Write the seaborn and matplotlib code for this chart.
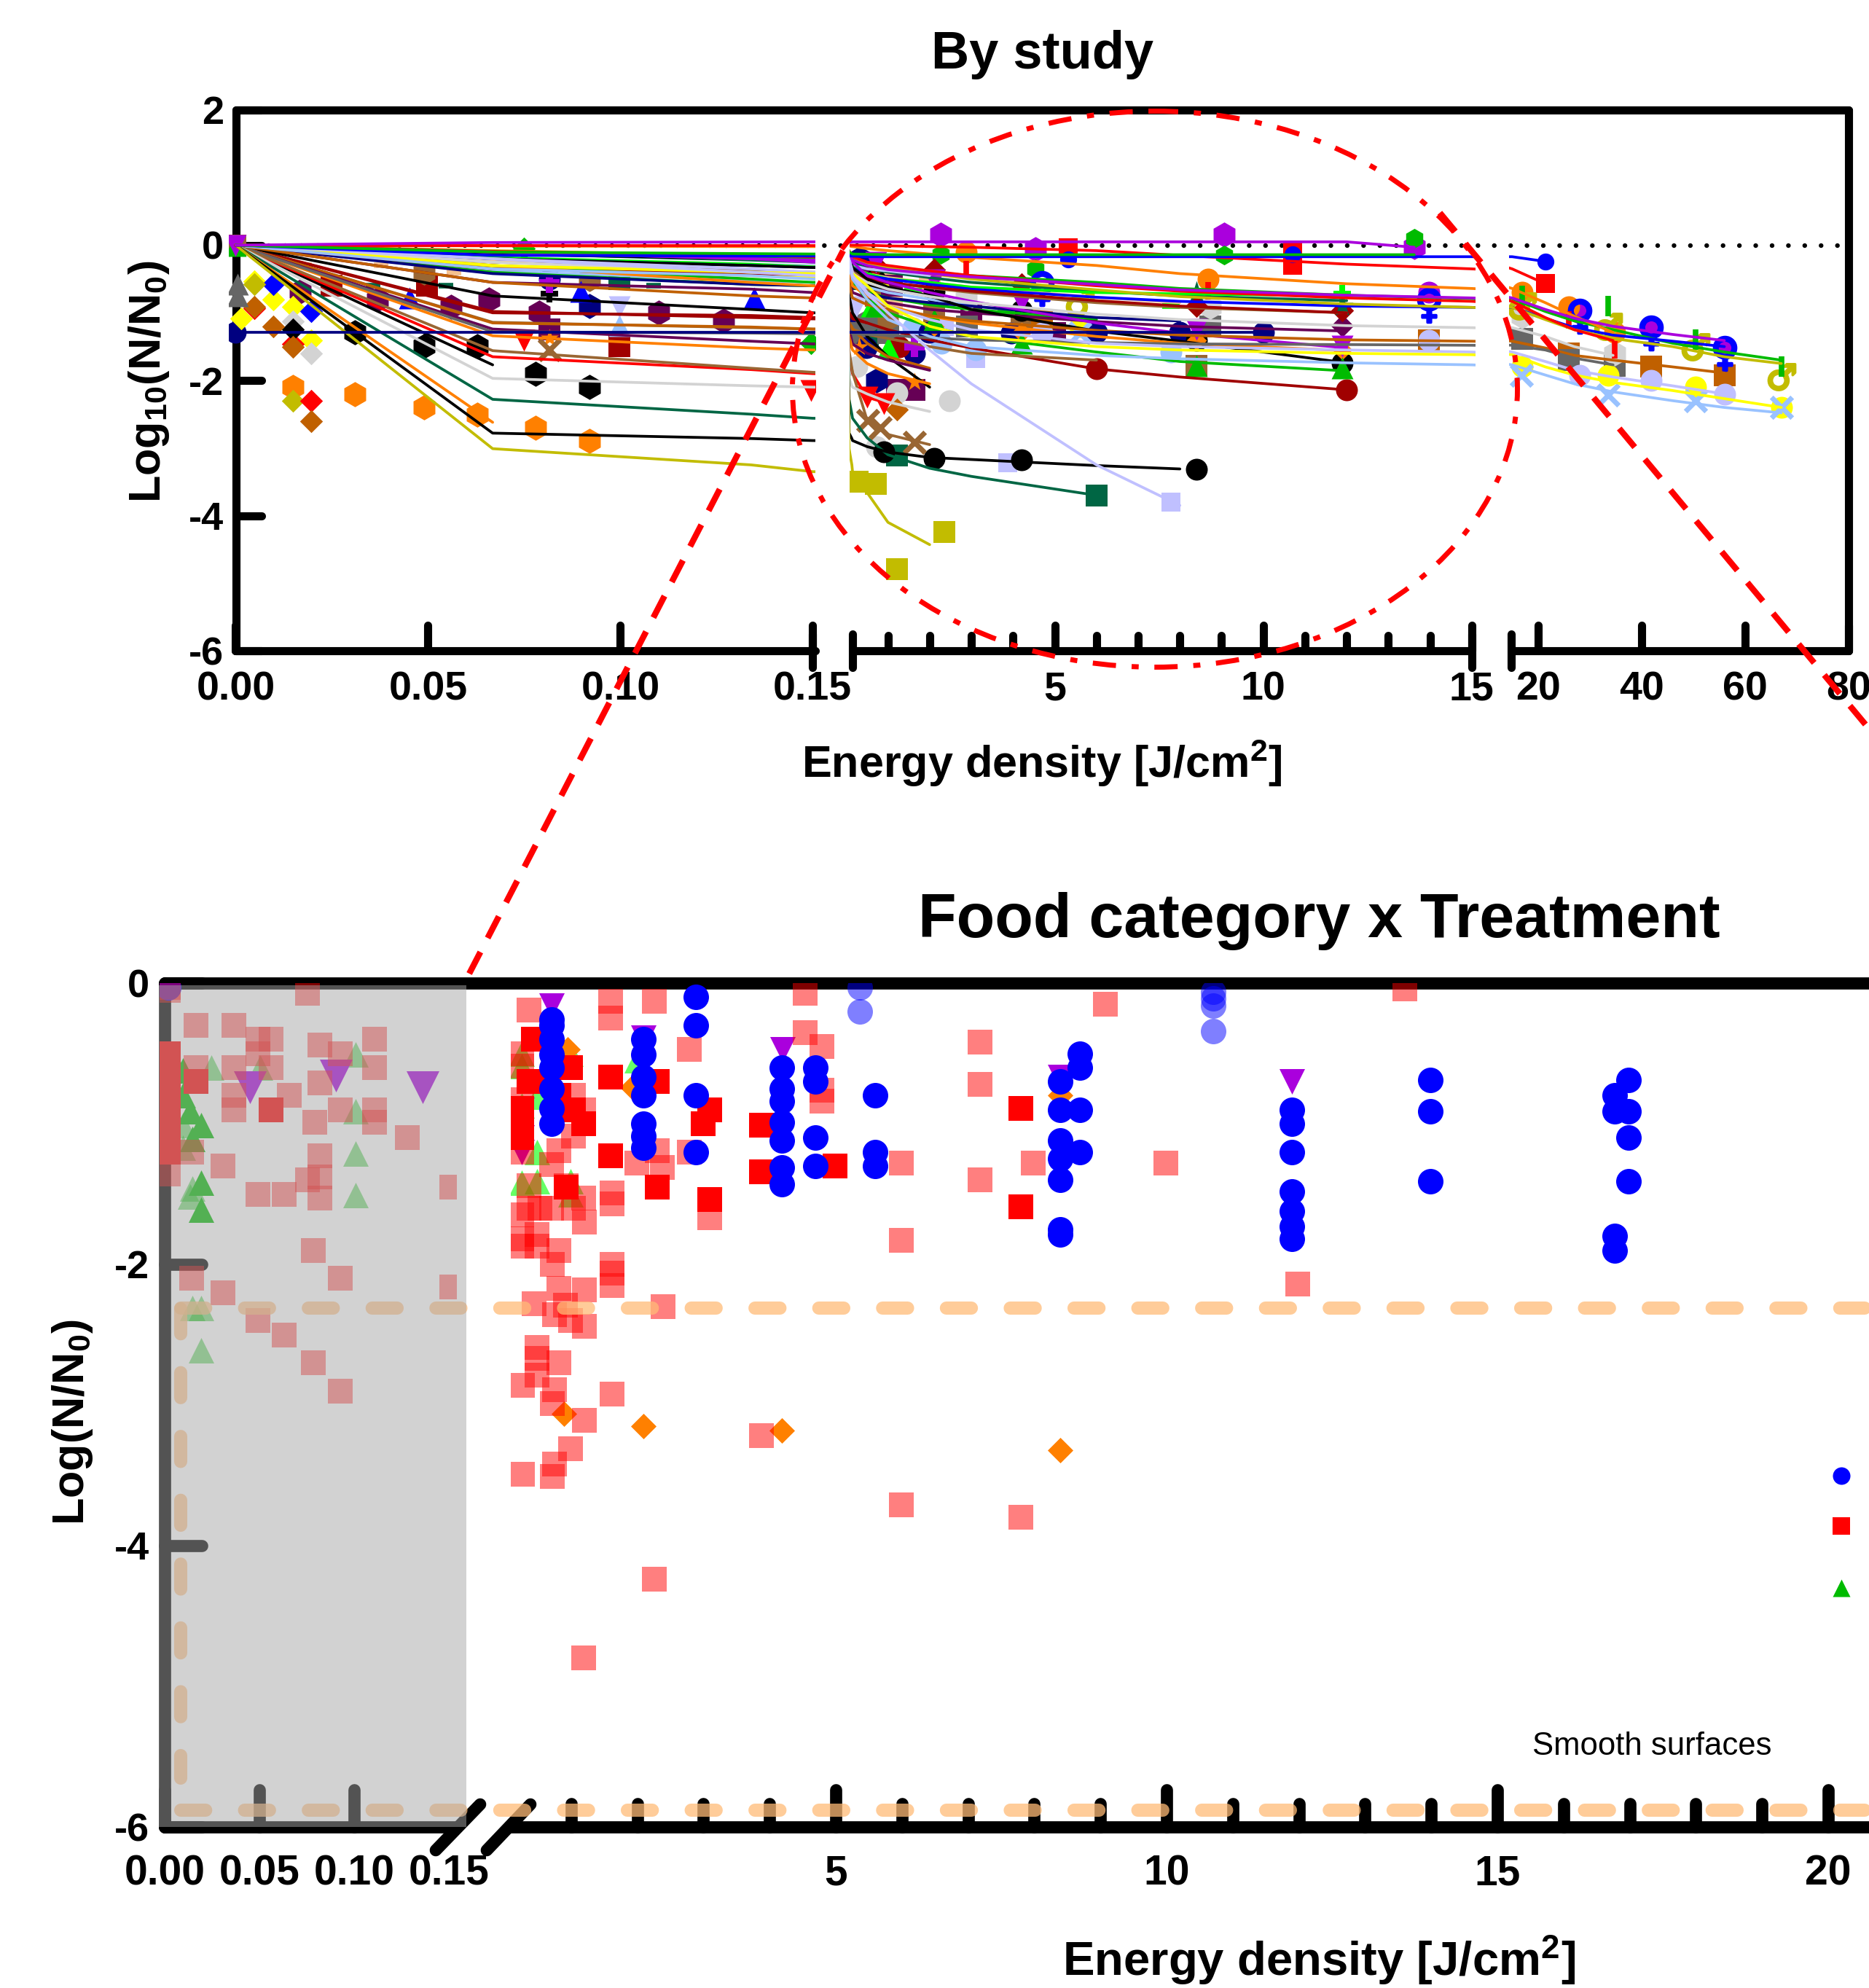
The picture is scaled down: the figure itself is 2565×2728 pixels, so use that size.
import matplotlib
matplotlib.use("Agg")
import matplotlib.pyplot as plt
import pandas as pd
import seaborn as sns
from matplotlib.font_manager import FontProperties
from matplotlib.markers import MarkerStyle
from matplotlib.patches import Ellipse, Rectangle
from matplotlib.path import Path
from matplotlib.textpath import TextPath

W, H = 2565, 2728

# ---- top panel: fitted curves, all read on this energy grid
line_x = [0, .0668, .134, .15, .5, 1, 2, 3, 6, 8, 12, 15, 21.4, 27, 34.5, 46, 56, 67]
blue_a = [0, -.15, -.16, -.16, -.17, -.17, -.17, -.17, -.17, -.17, -.17, -.17, -.24]
red_a = [0, 0, 0, 0, 0, -.01, -.02, -.03, -.08, -.15, -.28, -.35, -.57]
orange_a = [0, -.01, -.02, -.02, -.05, -.08, -.13, -.18, -.3, -.42, -.57, -.64, -.85, -1.05, -1.29]
purple_b = [0, -.1, -.2, -.22, -.3, -.36, -.42, -.47, -.58, -.66, -.74, -.78, -.95, -1.08, -1.2, -1.32, -1.41]
green_b = [0, -.1, -.18, -.2, -.28, -.33, -.4, -.45, -.55, -.64, -.74, -.79, -.98, -1.12, -1.25, -1.45, -1.58, -1.7]
red_b = [0, -.09, -.15, -.17, -.25, -.3, -.38, -.45, -.6, -.68, -.78, -.83, -1.07, -1.25, -1.41]
olive_a = [0, -.08, -.15, -.17, -.27, -.33, -.42, -.5, -.66, -.76, -.87, -.92, -1.1, -1.25, -1.38, -1.5, -1.65, -1.75]
blue_b = [0, -.2, -.3, -.33, -.45, -.5, -.58, -.65, -.77, -.83, -.9, -.92, -1.08, -1.22, -1.33, -1.42, -1.5]
lgray_a = [0, -.25, -.4, -.42, -.55, -.65, -.76, -.85, -1.02, -1.1, -1.19, -1.22, -1.35, -1.5, -1.63]
dorange_a = [0, -.55, -.75, -.78, -.88, -.95, -1.04, -1.12, -1.26, -1.33, -1.4, -1.42, -1.52, -1.63, -1.7, -1.8, -1.89]
gray_a = [0, -1.28, -1.3, -1.31, -1.32, -1.33, -1.37, -1.4, -1.44, -1.46, -1.47, -1.48, -1.55, -1.67, -1.77]
lav_a = [0, -.2, -.35, -.4, -.7, -.9, -1.1, -1.25, -1.45, -1.5, -1.55, -1.58, -1.72, -1.85, -1.95, -2.08, -2.2]
yellow_a = [0, -.3, -.4, -.42, -.6, -.9, -1.2, -1.35, -1.5, -1.55, -1.6, -1.62, -1.8, -1.92, -2.03, -2.15, -2.27, -2.4]
lblue_a = [0, -.35, -.45, -.5, -.8, -1.1, -1.35, -1.5, -1.63, -1.68, -1.74, -1.77, -1.92, -2.05, -2.17, -2.3, -2.4, -2.48]
dred_a = [0, -.35, -.42, -.44, -.5, -.55, -.62, -.68, -.82, -.9, -1.0]
dred_b = [0, -.98, -1.07, -1.09, -1.15, -1.25, -1.4, -1.52, -1.83, -1.95, -2.14]
dpurple_a = [0, -.55, -.65, -.7, -.78, -.85, -.95, -1.0, -1.13, -1.2, -1.27]
green_c = [0, -.3, -.5, -.55, -.8, -1.0, -1.2, -1.35, -1.58, -1.72, -1.86]
black_b = [0, -.2, -.3, -.33, -.5, -.62, -.75, -.95, -1.27, -1.42, -1.74]
purple_c = [0, -.1, -.2, -.25, -.45, -.55, -.7, -.83, -1.15, -1.3, -1.52]
orange_b = [0, -.3, -.55, -.6, -.75, -.9, -1.05, -1.15, -1.35, -1.45, -1.56]
dgreen_a = [0, -.12, -.22, -.25, -.35, -.4, -.48, -.55, -.68, -.75, -.82]
peach_a = [0, -.22, -.3, -.32, -.42, -.48, -.55, -.62, -.77, -.85]
lime_a = [0, -.18, -.28, -.32, -.42, -.5, -.55, -.62, -.7, -.72, -.75]
navy_a = [0, -.42, -.58, -.6, -.72, -.78, -.85, -.9, -1.07, -1.12]
black_a = [0, -1.77]
red_c = [0, -1.65, -1.84, -1.9, -2.25, -2.34]
brown_a = [0, -1.56, -1.82, -1.88, -2.59, -2.8, -2.95]
lgray_b = [0, -1.97, -2.08, -2.1, -2.2, -2.32, -2.46]
dgreen_b = [0, -2.28, -2.5, -2.56, -2.85, -3.1, -3.3, -3.42, -3.7]
orange_c = [0, -2.62]
black_c = [0, -2.78, -2.86, -2.89, -2.98, -3.06, -3.14, -3.17, -3.26, -3.31]
olive_b = [0, -3.01, -3.25, -3.35, -3.66, -4.1, -4.43]
lav_b = [0, -.2, -.4, -.45, -.72, -1.0, -1.55, -2.05, -3.25, -3.85]
black_d = [0, -.13, -.2, -.22, -.3, -.35]
lav_c = [0, -.2, -.28, -.3, -.35, -.38, -.45]
yellow_b = [0, -.32, -.45, -.48, -.55, -.6]
lblue_b = [0, -.38, -.52, -.55, -.62, -.7, -.8, -.9]
green_d = [0, -.4, -.58, -.6, -.7, -.78, -.88, -.95, -1.1]
dorange_b = [0, -1.15, -1.21, -1.24, -1.45, -1.65, -1.82]
orange_d = [0, -1.34, -1.52, -1.55, -1.75, -1.9, -2.05]
black_e = [0, -.75, -.95, -1.0, -1.35, -1.65, -2.1]
brown_b = [0, -1.14, -1.22, -1.24, -1.32, -1.38, -1.5, -1.6, -1.7]
purple_d = [0, -1.24, -1.42, -1.46, -1.6, -1.7, -1.85]
dred_c = [0, -1.0, -1.04, -1.07, -1.15]
brown_c = [0, -.25, -.37, -.4, -.48, -.55, -.63, -.7, -.85, -.92, -1.0]

# curves that do not sit on the grid
flat_x = [0, .0668, .15, 1, 5, 9, 12, 13.62]
purple_flat = [0, .04, .05, .05, .05, .05, .05, -.03]
green_flat = [0, -.1, -.13, -.14, -.14, -.14, -.14, -.14]
navy_x = [0, .15, 1, 5, 8, 10]
navy_flat = [-1.29, -1.29, -1.29, -1.29, -1.29, -1.29]

# ---- top panel: points, one pair of lists per marker and colour
hex_dpurple = ([.0167, .0368, .0559, .0658, .0789, .1099, .1268], [-.69, -.80, -.91, -.80, -1.0, -1.0, -1.12])
hex_black = ([.0309, .0489, .0628, .0779, .0919], [-1.29, -1.49, -1.49, -1.90, -2.10])
hex_orange = ([.0149, .0309, .0489, .0628, .0779, .0919], [-2.10, -2.21, -2.40, -2.51, -2.70, -2.89])
hex_brown = ([.0489, .0919, .99], [-.40, -.50, -1.08])
hex_navy = ([.0919, .32, .73], [-.90, -.20, -2.0])
hex_purple = ([2.27, 4.53, 9.07, 13.62], [.16, -.06, .16, -.03])
hex_green = ([2.27, 4.53, 9.07, 13.62], [-.14, -.35, -.15, .10])
hex_lgray = ([2.88, 8.73, 16.9, 34.8], [-.79, -.91, -1.05, -1.6])
hex_gray = ([.48], [-1.14])
dia_yellow = ([.0048, .0097, .0149, .0197, .0015], [-.53, -.80, -.91, -1.41, -1.08])
dia_dorange = ([.0048, .0097, .0149, .0197, 1.21], [-.91, -1.20, -1.50, -2.60, -2.43])
dia_blue = ([.0097, .0197], [-.58, -.98])
dia_lgray = ([.0149, .0197], [-1.13, -1.60])
dia_olive = ([.0149, .0048], [-2.30, -.58])
dia_red = ([.0197, .0149, .0048], [-2.30, -1.46, -.93])
dia_green = ([.0749, .1495], [-.05, -1.45])
dia_black = ([.0149], [-1.24])
dia_dred = ([.71, 2.1, 4.2, 8.4, 11.89], [-.3, -.36, -.58, -.9, -.97])
dia_orange = ([2.1, 4.2, 8.4, 11.89], [-1.2, -1.29, -1.41, -1.55])
dia_dpurple = ([11.89], [-1.19])
sq_dred = ([.0249, .0498, .0998], [-.60, -.60, -1.49])
sq_dpurple = ([.0815, .32, 2.99, 1.63, 1.21, 5.0, 1.1], [-1.24, -.4, -1.0, -2.14, -2.14, -1.3, -.6])
sq_dgreen = ([.0998, .28, .51, 1.21, 6.0], [-.50, -.5, -1.4, -3.11, -3.70])
sq_olive = ([.28, .71, 2.36, 1.21], [-3.5, -3.53, -4.24, -4.79])
sq_red = ([5.33, 10.7, 10.7, 21.4], [-.04, -.1, -.3, -.57])
sq_gray = ([.26, 1.0, 2.89, 8.73, 16.9, 26, 34.8], [-1.3, -1.3, -1.2, -1.2, -1.39, -1.7, -1.78])
sq_brown = ([0, .71, 2.1, 4.2, 8.4], [0, -.75, -1.02, -1.1, -1.78])
sq_dorange = ([4.7, 13.97, 26, 41.9, 56], [-1.11, -1.41, -1.6, -1.8, -1.92])
sq_lav = ([2.36, 3.1, 3.88, 7.79], [-1.2, -1.68, -3.22, -3.80])
sq_peach = ([1.1, 1.1, 2.0], [-.52, -.91, -.55])
sq_navy = ([.2], [-1.19])
tri_blue = ([.0451, .0897, .1347], [-.78, -.68, -.78])
tri_lblue = ([.0998], [-1.19])
tri_gray = ([.0004, .0004], [-.58, -.75])
tri_green = ([0, .71, 2.1, 4.2, 8.4, 11.89], [0, -.9, -1.11, -1.45, -1.78, -1.82])
tri_lime = ([1.0, .6], [-1.52, -.9])
inv_purple = ([0, .71, 2.1, 4.2, 8.4, 11.89], [0, -.25, -.51, -.84, -1.25, -1.49])
inv_red = ([.0749, .1495, .5, .9], [-1.41, -2.15, -2.25, -2.34])
inv_lav = ([.0998, .24], [-.91, -.91])
cir_black = ([.7, 2.1, 4.2, .91, 2.1, 4.2, 8.4, 8.4, 11.89], [-.51, -.68, -.97, -3.06, -3.15, -3.18, -3.32, -1.41, -1.74])
cir_navy = ([0, .0815, 1.99, 3.96, 6, 8, 10, 1.63, .48], [-1.29, -.5, -1.29, -1.3, -1.29, -1.29, -1.29, -1.6, -1.51])
cir_dred = ([6, 11.99, 1.26], [-1.83, -2.14, -1.5])
cir_lblue = ([1.6, 2.29, 3.1, 3.96, 7.79], [-1.22, -1.45, -1.55, -1.3, -1.58])
cir_lav = ([4.7, 13.97, 28, 41.9, 56], [-1.3, -1.41, -1.92, -2.0, -2.2])
cir_orange = ([2.88, 8.68, 16.9, 26, 34.8], [-.10, -.5, -.7, -.91, -1.29])
cir_lgray = ([.26, 1.21, .73, 2.47], [-1.8, -2.18, -2.98, -2.3])
cir_yellow = ([5.61, 16.9, 33.5, 50.4, 67.1], [-1.2, -1.8, -1.92, -2.1, -2.4])
cir_blue = ([5.33, 10.7, 21.4], [-.21, -.14, -.24])
cir_purple = ([28, 41.9, 56, 13.97], [-1.0, -1.22, -1.5, -.7])
fem_blue = ([4.7, 13.97, 28, 41.9, 56], [-.64, -.89, -1.05, -1.3, -1.6])
male_olive = ([5.61, 16.9, 33.5, 50.4, 67.1], [-.86, -.9, -1.2, -1.5, -1.95])
x_brown = ([.0815, .51, .82, 1.63], [-1.55, -2.59, -2.7, -2.92])
x_lblue = ([5.61, 16.8, 33.5, 50.4, 67.1], [-1.3, -1.92, -2.22, -2.3, -2.4])
star_orange = ([.0815, 1.63, .3], [-1.37, -2.02, -1.5])
plus_lime = ([11.89], [-.72])
plus_black = ([.0815], [-.72])
plus_purple = ([.0815, 1.63], [-.55, -1.5])
clover_dgreen = ([8.4, 11.89], [-.7, -.9])
pill_peach = ([.0179, .0378, .0568, .1109], [-.30, -.30, -.40, -.40])
pill_dgreen = ([.0358, .0547, .1087], [-.60, -.60, -.60])
pill_lime = ([1.6, 7.79, 3.83], [-.67, -.9, -1.0])
bar_green = ([16.9, 33.5, 50.4, 67.1], [-.75, -.9, -1.4, -1.8])
bar_red = ([2.88, 8.68, 26, 34.8], [-.36, -.67, -1.1, -1.55])

# ---- bottom panel: food category x treatment
low_light_red_x = [.0165, .0367, .0491, .0561, .0165, .0367, .0491, .0561, .0818, .0926, .1109, .1109, .0818, .0367, .0367,
                   .0659, .0561, .0926, .0791, .1109, .1109, .1279, .0818, .0143, .0306, .0754, .0818, .0491, .0632, .0818,
                   .1515, .0018, .0783, .0143, .0926, .0306, .1515, .0491, .0632, .0783, .0926, .0754, .0018]
low_light_red_y = [-.3, -.3, -.4, -.4, -.6, -.6, -.5, -.6, -.44, -.5, -.4, -.6, -.71, -.8, -.9,
                   -.8, -.9, -.9, -.99, -.9, -.99, -1.1, -1.23, -1.2, -1.3, -1.4, -1.38, -1.5, -1.5, -1.53,
                   -1.45, -1.36, -1.9, -2.1, -2.1, -2.2, -2.16, -2.4, -2.5, -2.7, -2.9, -.07, -.05]
low_red_x = [.0165, .0561, .0018, .0018, .0018, .0018, .0018, .0018, .0018, .0018]
low_red_y = [-.7, -.9, -.5, -.6, -.7, -.8, -.9, -1.0, -1.1, -1.2]
low_green_x = [.0045, .0096, .0096, .0135, .0194, .0145, .0194, .0194]
low_green_y = [-.55, -.62, -.8, -.91, -1.01, -1.11, -1.42, -1.61]
low_light_green_x = [.0247, .0502, .1009, .1009, .1009, .1009, .0145, .0135, .0145, .0194, .0194, .0096, .0096]
low_light_green_y = [-.6, -.6, -.51, -.91, -1.21, -1.51, -1.46, -1.52, -2.31, -2.31, -2.61, -1.17, -1.01]
low_purple_x = [.0449, .0905, .1362]
low_purple_y = [-.74, -.66, -.74]
corner_x = [.0018]
corner_y = [-.03]

light_red_x = [.36, 1.6, 1.6, 2.26, 2.79, .25, .25, .25, 1.03, 1.19, 1.04, .81, .25, 1.99, 2.38, 2.79, 2.3,
               .7, .36, .92, 1.19, 1.62, 1.62, .25, .36, .53, .7, 1.03, 1.2, 3.1, .25, .25, .48, .48, .82,
               1.62, 1.62, .72, .82, 1.2, 1.62, .44, .75, .91, .99, 1.2, 2.39, .48, .49, .82, .49, .26, .75,
               1.62, .72, 1.2, .99, .75, .26, .72, 4.54, 4.54, 4.79, 4.79, 4.79, 9.07, 7.18, 7.18, 7.18,
               5.99, 7.99, 9.99, 5.99, 11.98, 13.6, 3.88, 5.99, 7.8, 2.26, 1.19]
light_red_y = [-.19, -.13, -.25, -.13, -.47, -.5, -.59, -.83, -.8, -.9, -1.09, -1.19, -1.2, -1.28, -1.31, -1.2, -1.19,
               -1.29, -1.44, -1.44, -1.53, -1.49, -1.57, -1.65, -1.6, -1.6, -1.6, -1.6, -1.7, -1.67, -1.82, -1.87, -1.79, -1.87, -1.9,
               -2.0, -2.06, -2.0, -2.17, -2.18, -2.15, -2.28, -2.36, -2.29, -2.4, -2.44, -2.3, -2.59, -2.67, -2.7, -2.79, -2.86, -2.89,
               -2.92, -2.99, -3.11, -3.31, -3.42, -3.49, -3.51, -.07, -.35, -.45, -.76, -.84, -.15, -.42, -.72, -1.4,
               -1.28, -1.28, -1.28, -1.83, -2.14, -.04, -3.22, -3.71, -3.8, -4.24, -4.8]
red_x = [.43, .99, 1.6, 2.3, 3.1, 3.0, .36, .64, .81, 1.03, 1.19, .25, .25, .25, 1.6, 2.3, .92, 3.1, 3.88, 7.8, 3.88, 4.99, 7.8]
red_y = [-.4, -.6, -.67, -.7, -.9, -1.0, -.7, -.7, -.8, -.9, -1.0, -.89, -1.0, -1.1, -1.23, -1.45, -1.45, -1.54, -1.01, -.89, -1.34, -1.3, -1.59]
blue_x = [.7, .7, .7, .7, .7, .7, .7, .7, 2.09, 2.09, 2.09, 2.09, 2.09, 2.09, 2.09, 2.89, 2.89, 2.89, 2.89,
          4.19, 4.19, 4.19, 4.19, 4.19, 4.19, 4.19, 4.69, 4.69, 4.69, 4.69, 5.59, 5.59, 5.59,
          8.39, 8.39, 8.39, 8.39, 8.39, 8.39, 8.39, 8.69, 8.69, 8.69, 8.69,
          11.89, 11.89, 11.89, 11.89, 11.89, 11.89, 11.89, 13.99, 13.99, 13.99,
          16.77, 16.77, 16.77, 16.77, 16.98, 16.98, 16.98, 16.98]
blue_y = [-.26, -.3, -.4, -.51, -.6, -.75, -.89, -1.0, -.4, -.51, -.67, -.8, -1.0, -1.09, -1.17, -.1, -.3, -.8, -1.2,
          -.6, -.75, -.84, -.99, -1.12, -1.31, -1.43, -.6, -.7, -1.1, -1.3, -.8, -1.2, -1.3,
          -.7, -.9, -1.12, -1.25, -1.4, -1.75, -1.79, -.5, -.6, -.9, -1.2,
          -.9, -1.0, -1.2, -1.48, -1.62, -1.73, -1.82, -.69, -.91, -1.41,
          -.8, -.91, -1.8, -1.9, -.69, -.91, -1.1, -1.41]
light_blue_x = [5.36, 5.36, 10.71, 10.71, 10.71, 10.71]
light_blue_y = [-.03, -.2, -.06, -.11, -.16, -.34]
purple_x = [.7, 2.09, 4.2, 8.39, 11.89, .25, .25, .25]
purple_y = [-.16, -.39, -.47, -.67, -.7, -.9, -1.1, -1.2]
orange_x = [.89, 2.09, 4.19, 8.39, 8.39, .95, 1.93]
orange_y = [-3.06, -3.15, -3.18, -3.32, -.8, -.47, -.74]
light_green_x = [.25, .25, .48, .25, .99, .48, .25, .48, .99, .99, 1.99]
light_green_y = [-.5, -.59, -.81, -.87, -.5, -1.2, -1.42, -1.41, -1.41, -1.5, -.55]
key_x = [20.2, 20.2, 20.2]
key_y = [-3.5, -3.86, -4.3]

# reference lines on the bottom panel, and decoration, in picture pixels
zoom_circle = (1585, 534, 995, 763)
zoom_left = ([644, 1157], [1336, 344])
zoom_right = ([1976, 2565], [292, 1000])
limit_h_y = [1794.5, 2484]
limit_v_x = 248

sns.set_theme(style="white")
plt.rcParams.update({
    "font.family": ["Liberation Sans", "DejaVu Sans"],
    "font.weight": "bold",
    "mathtext.default": "regular",
    "axes.titleweight": "bold",
    "text.color": "black",
    "axes.labelcolor": "black",
    "xtick.color": "black",
    "ytick.color": "black",
})

fig = plt.figure(figsize=(W / 100, H / 100), dpi=100, facecolor="white")


def px_axes(x0, x1, y0, y1, **kw):
    ax = fig.add_axes([x0 / W, 1 - y1 / H, (x1 - x0) / W, (y1 - y0) / H], **kw)
    ax.set_facecolor("none")
    ax.grid(False)
    return ax


def round_ticks(ax):
    for axis in (ax.xaxis, ax.yaxis):
        for t in axis.get_major_ticks() + axis.get_minor_ticks():
            t.tick1line.set_marker(MarkerStyle(t.tick1line.get_marker(), capstyle="round"))


def symbol(ch):
    p = TextPath((0, 0), ch, size=1, prop=FontProperties(family="DejaVu Sans", weight="bold"))
    box = p.get_extents()
    return Path(p.vertices - [(box.x0 + box.x1) / 2, (box.y0 + box.y1) / 2], p.codes)


seg_range = {}


def dots(axes, xy, marker, color, s=466, **kw):
    kw.setdefault("linewidth", 0)
    for ax in axes:
        lo, hi = seg_range.get(ax, (-1, 999))
        keep = [(x, y) for x, y in zip(*xy) if lo <= x <= hi]
        if keep:
            sns.scatterplot(x=[k[0] for k in keep], y=[k[1] for k in keep], marker=marker, color=color, s=s,
                            ax=ax, legend=False, **kw)


def finish_segment(ax, xlim, ylim, major, labels, minor, lw, major_len, minor_len, size, pad, spine_from=None):
    ax.set_xlim(*xlim)
    ax.set_ylim(*ylim)
    ax.set_xlabel("")
    ax.set_ylabel("")
    ax.set_yticks([])
    for side in ("left", "right", "top"):
        ax.spines[side].set_visible(False)
    sp = ax.spines["bottom"]
    sp.set_linewidth(lw)
    sp.set_color("black")
    sp.set_capstyle("round")
    if spine_from is not None:
        sp.set_bounds(spine_from, xlim[1])
    ax.set_xticks(major)
    ax.set_xticklabels(labels, fontsize=size, fontweight="bold")
    ax.set_xticks(minor, minor=True)
    ax.tick_params(axis="x", which="major", bottom=True, direction="in", length=major_len, width=lw, pad=pad, color="black")
    ax.tick_params(axis="x", which="minor", bottom=True, direction="in", length=minor_len, width=lw, color="black")
    round_ticks(ax)


def make_frame(x0, x1, y0, y1, ylim, ticks, lw, length, size, pad, right):
    ax = px_axes(x0, x1, y0, y1)
    ax.set_xlim(0, 1)
    ax.set_ylim(*ylim)
    ax.set_xticks([])
    ax.set_yticks(ticks)
    ax.set_yticklabels([str(t) for t in ticks], fontsize=size, fontweight="bold")
    ax.tick_params(axis="y", left=True, direction="in", length=length, width=lw, pad=pad, color="black")
    for side, on in (("left", True), ("top", True), ("right", right), ("bottom", False)):
        ax.spines[side].set_visible(on)
        ax.spines[side].set_linewidth(lw)
        ax.spines[side].set_color("black")
        ax.spines[side].set_capstyle("round")
    round_ticks(ax)
    return ax


# ---- top panel
frame_top = make_frame(323.5, 2537, 151, 893, (-6, 2), [-6, -4, -2, 0, 2], 8, 25, 39, 12, True)
frame_top.axhline(0, color="black", lw=4.6, dashes=(0.01, 3.5), dash_capstyle="round")

top_seg = [px_axes(314, 1119, 151, 893), px_axes(1166, 2025, 151, 893), px_axes(2071, 2537, 151, 893)]
seg_range[top_seg[0]] = (-1, .15)
seg_range[top_seg[1]] = (.15, 15)
seg_range[top_seg[2]] = (15, 999)

curves = [
    (line_x, dgreen_a, "#006644"), (line_x, black_d, "black"), (line_x, brown_c, "#996633"), (line_x, lav_c, "#c0c0ff"),
    (line_x, green_b, "#00bb00"), (line_x, peach_a, "#f5c18f"), (line_x, lime_a, "#00ff00"), (line_x, yellow_b, "#ffff00"),
    (line_x, lblue_b, "#99c2ff"), (line_x, green_d, "#00bb00"), (line_x, navy_a, "#000080"), (line_x, blue_b, "#0000ff"),
    (line_x, dred_c, "#a00000"), (line_x, dred_a, "#a00000"), (line_x, dred_b, "#a00000"), (line_x, dpurple_a, "#660055"),
    (line_x, brown_b, "#996633"), (line_x, green_c, "#00bb00"), (line_x, black_e, "black"), (line_x, dorange_b, "#c06000"),
    (line_x, purple_d, "#660055"), (line_x, orange_d, "#ff8000"), (line_x, black_b, "black"), (line_x, purple_c, "#aa00dd"),
    (line_x, orange_b, "#ff8000"), (line_x, lgray_a, "#d3d3d3"), (line_x, dorange_a, "#c06000"), (line_x, gray_a, "#666666"),
    (line_x, lav_a, "#c0c0ff"), (line_x, yellow_a, "#ffff00"), (line_x, lblue_a, "#99c2ff"), (line_x, black_a, "black"),
    (line_x, red_c, "#ff0000"), (line_x, brown_a, "#996633"), (line_x, lgray_b, "#d3d3d3"), (line_x, dgreen_b, "#006644"),
    (line_x, orange_c, "#ff8000"), (line_x, black_c, "black"), (line_x, olive_b, "#c2bc00"), (line_x, lav_b, "#c0c0ff"),
    (line_x, olive_a, "#c2bc00"), (line_x, red_b, "#ff0000"), (line_x, orange_a, "#ff8000"), (line_x, purple_b, "#aa00dd"),
    (line_x, red_a, "#ff0000"), (line_x, blue_a, "#0000ff"), (navy_x, navy_flat, "#000080"),
    (flat_x, green_flat, "#00bb00"), (flat_x, purple_flat, "#aa00dd"),
]
rows = []
for i, (xs, ys, _) in enumerate(curves):
    rows += [{"energy": x, "logn": y, "study": i} for x, y in zip(xs, ys)]
curve_table = pd.DataFrame(rows)
curve_colors = {i: c[2] for i, c in enumerate(curves)}
for ax in top_seg:
    sns.lineplot(data=curve_table, x="energy", y="logn", hue="study", palette=curve_colors, estimator=None,
                 sort=False, linewidth=2.7, legend=False, ax=ax)

fem = symbol("\u2640")
male = symbol("\u2642")
dots(top_seg, sq_peach, "s", "#f5c18f")
dots(top_seg, sq_navy, "s", "#000080")
dots(top_seg, sq_dgreen, "s", "#006644")
dots(top_seg, sq_brown, "s", "#996633")
dots(top_seg, sq_dpurple, "s", "#660055")
dots(top_seg, sq_dorange, "s", "#c06000")
dots(top_seg, sq_gray, "s", "#666666")
dots(top_seg, sq_lav, "s", "#c0c0ff", s=340)
dots(top_seg, sq_olive, "s", "#c2bc00")
dots(top_seg, sq_dred, "s", "#a00000")
dots(top_seg, sq_red, "s", "#ff0000", s=330)
dots(top_seg, hex_dpurple, "h", "#660055", s=620)
dots(top_seg, hex_black, "h", "black", s=620)
dots(top_seg, hex_orange, "h", "#ff8000", s=620)
dots(top_seg, hex_brown, "h", "#996633", s=620)
dots(top_seg, hex_navy, "h", "#000080", s=620)
dots(top_seg, hex_purple, "h", "#aa00dd", s=620)
dots(top_seg, hex_green, "h", "#00bb00", s=380)
dots(top_seg, hex_lgray, "h", "#d3d3d3", s=620)
dots(top_seg, hex_gray, "h", "#666666", s=620)
dots(top_seg, cir_purple, "o", "#aa00dd")
dots(top_seg, cir_orange, "o", "#ff8000")
dots(top_seg, cir_yellow, "o", "#ffff00")
dots(top_seg, cir_lgray, "o", "#d3d3d3")
dots(top_seg, cir_lblue, "o", "#99c2ff")
dots(top_seg, cir_navy, "o", "#000080")
dots(top_seg, cir_dred, "o", "#a00000")
dots(top_seg, cir_black, "o", "black")
dots(top_seg, cir_lav, "o", "#c0c0ff")
dots(top_seg, cir_blue, "o", "#0000ff", s=280)
dots(top_seg, dia_yellow, "D", "#ffff00", s=256)
dots(top_seg, dia_lgray, "D", "#d3d3d3", s=256)
dots(top_seg, dia_blue, "D", "#0000ff", s=256)
dots(top_seg, dia_olive, "D", "#c2bc00", s=256)
dots(top_seg, dia_red, "D", "#ff0000", s=256)
dots(top_seg, dia_black, "D", "black", s=256)
dots(top_seg, dia_dorange, "D", "#c06000", s=256)
dots(top_seg, dia_green, "D", "#00bb00", s=256)
dots(top_seg, dia_dpurple, "D", "#660055", s=256)
dots(top_seg, dia_dred, "D", "#a00000", s=256)
dots(top_seg, dia_orange, "D", "#ff8000", s=200)
dots(top_seg, tri_gray, "^", "#666666")
dots(top_seg, tri_blue, "^", "#0000ff")
dots(top_seg, tri_lblue, "^", "#99c2ff")
dots(top_seg, tri_lime, "^", "#00ff00")
dots(top_seg, tri_green, "^", "#00bb00")
dots(top_seg, inv_red, "v", "#ff0000")
dots(top_seg, inv_lav, "v", "#c0c0ff")
dots(top_seg, inv_purple, "v", "#aa00dd")
dots(top_seg, plus_lime, "P", "#00ff00", s=300)
dots(top_seg, plus_black, "P", "black", s=300)
dots(top_seg, plus_purple, "P", "#aa00dd", s=400)
dots(top_seg, clover_dgreen, "*", "#006644", s=520)
dots(top_seg, star_orange, "*", "#ff8000", s=360)
dots(top_seg, fem_blue, fem, "#0000ff", s=1100, linewidth=2.5, edgecolor="#0000ff")
dots(top_seg, male_olive, male, "#c2bc00", s=1000, linewidth=2.5, edgecolor="#c2bc00")
dots(top_seg, x_brown, "x", "#996633", s=420, linewidth=5)
dots(top_seg, x_lblue, "x", "#99c2ff", s=420, linewidth=5)
dots(top_seg, pill_peach, "_", "#f5c18f", s=190, linewidth=5.5)
dots(top_seg, pill_dgreen, "_", "#006644", s=190, linewidth=5.5)
dots(top_seg, pill_lime, "_", "#00ff00", s=320, linewidth=5.5)
dots(top_seg, bar_green, "|", "#00bb00", s=400, linewidth=5.5)
dots(top_seg, bar_red, "|", "#ff0000", s=300, linewidth=5.5)

finish_segment(top_seg[0], (-9.5 / 5280, .1507), (-6, 2), [0, .05, .10, .15], ["0.00", "0.05", "0.10", "0.15"], [],
               8, 25, 15, 40, 20, spine_from=0)
finish_segment(top_seg[1], (.08, 15.09), (-6, 2), [5, 10, 15], ["5", "10", "15"],
               [1, 2, 3, 4, 6, 7, 8, 9, 11, 12, 13, 14], 8, 25, 15, 40, 20)
top_seg[1].spines["bottom"].set_bounds(.15, 15)
finish_segment(top_seg[2], (14.4, 80), (-6, 2), [20, 40, 60, 80], ["20", "40", "60", "80"], [], 8, 25, 15, 40, 20)
top_seg[2].spines["bottom"].set_bounds(15, 80)

# ---- bottom panel
frame_low = make_frame(226, 2600, 1349, 2507, (-6, 0), [-6, -4, -2, 0], 12, 37, 39, 15, False)
low_seg = [px_axes(219, 626, 1349, 2507), px_axes(701, 2565, 1349, 2507)]
low_left = [low_seg[0]]
low_right = [low_seg[1]]
dots(low_left, (low_light_green_x, low_light_green_y), "^", "#00bb00", s=635, alpha=.5)
dots(low_left, (low_green_x, low_green_y), "^", "#00bb00", s=635)
dots(low_left, (low_purple_x, low_purple_y), "v", "#aa00dd", s=1050)
dots(low_left, (low_light_red_x, low_light_red_y), "s", "#ff0000", s=635, alpha=.5)
dots(low_left, (low_red_x, low_red_y), "s", "#ff0000", s=635)
dots(low_left, (corner_x, corner_y), "o", "#0000ff", s=635)
dots(low_left, (corner_x, corner_y), "s", "#ff0000", s=635, alpha=.5)
dots(low_right, (light_green_x, light_green_y), "^", "#00ff00", s=635, alpha=.6)
dots(low_right, (purple_x, purple_y), "v", "#aa00dd", s=635)
dots(low_right, (orange_x, orange_y), "D", "#ff8000", s=318)
dots(low_right, (light_red_x, light_red_y), "s", "#ff0000", s=635, alpha=.5, edgecolor="#ff0000")
dots(low_right, (red_x, red_y), "s", "#ff0000", s=635)
dots(low_right, (light_blue_x, light_blue_y), "o", "#0000ff", s=635, alpha=.5)
dots(low_right, (blue_x, blue_y), "o", "#0000ff", s=635)
for xy, m, c in (((key_x[:1], key_y[:1]), "o", "#0000ff"),
                 ((key_x[1:2], key_y[1:2]), "s", "#ff0000"),
                 ((key_x[2:], key_y[2:]), "^", "#00bb00")):
    dots(low_right, xy, m, c, s=300)

finish_segment(low_seg[0], (-7 / 2600, 400 / 2600), (-6, 0), [0, .05, .10, .15], ["0.00", "0.05", "0.10", "0.15"], [],
               12, 37, 23, 41, 27, spine_from=0)
low_seg[0].xaxis.get_major_ticks()[3].tick1line.set_visible(False)
finish_segment(low_seg[1], (5 - 446 / 90.8, 5 + 1418 / 90.8), (-6, 0), [5, 10, 15, 20], ["5", "10", "15", "20"],
               [1, 2, 3, 4, 6, 7, 8, 9, 11, 12, 13, 14, 16, 17, 18, 19], 12, 37, 23, 41, 27)

# ---- overlay: grey band, limit lines, zoom guides
over = fig.add_axes([0, 0, 1, 1])
over.set_xlim(0, W)
over.set_ylim(H, 0)
over.axis("off")
over.patch.set_alpha(0)
peach = dict(color="#ffbb77", alpha=.75, lw=13, dashes=(1.9, 2.95), dash_capstyle="round")
for y in limit_h_y:
    over.plot([248, W], [y, y], **peach)
over.plot([limit_v_x, limit_v_x], [1787 + 9, 2440], **peach)
over.add_patch(Rectangle((218, 1352), 422, 1155, facecolor="#a6a6a6", alpha=.5, edgecolor="none", zorder=5))
for xs, ys in (([659, 598], [2476, 2539]), ([728, 668], [2476, 2539])):
    over.plot(xs, ys, color="black", lw=12, solid_capstyle="round", zorder=1)
for x in (1115, 1170, 2020, 2074):
    over.plot([x, x], [870, 916], color="black", lw=8, solid_capstyle="round", zorder=1)
over.add_patch(Ellipse(zoom_circle[:2], zoom_circle[2], zoom_circle[3], fill=False, edgecolor="#ff0000", lw=5,
                       linestyle=(0, (4.6, 3.1, 1.4, 3.1)), zorder=6))
for xs, ys in (zoom_left, zoom_right):
    over.plot(xs, ys, color="#ff0000", lw=6, dashes=(4, 2.6), zorder=6)

# ---- text
def label(x, y, s, size, **kw):
    kw.setdefault("fontweight", "bold")
    fig.text(x / W, 1 - y / H, s, fontsize=size, ha="center", va="center", **kw)


label(1430, 75, "By study", 52)
label(1810, 1264, "Food category x Treatment", 62)
label(1430, 1047, "Energy density [J/cm$^{2}$]", 44)
label(1810, 2690, "Energy density [J/cm$^{2}$]", 47)
label(204, 524, "Log$_{10}$(N/N$_{0}$)", 44, rotation=90)
label(99, 1952, "Log(N/N$_{0}$)", 44, rotation=90)
label(2267, 2397, "Smooth surfaces", 31.5, fontweight="normal")

fig.savefig("out.png", dpi=100)
